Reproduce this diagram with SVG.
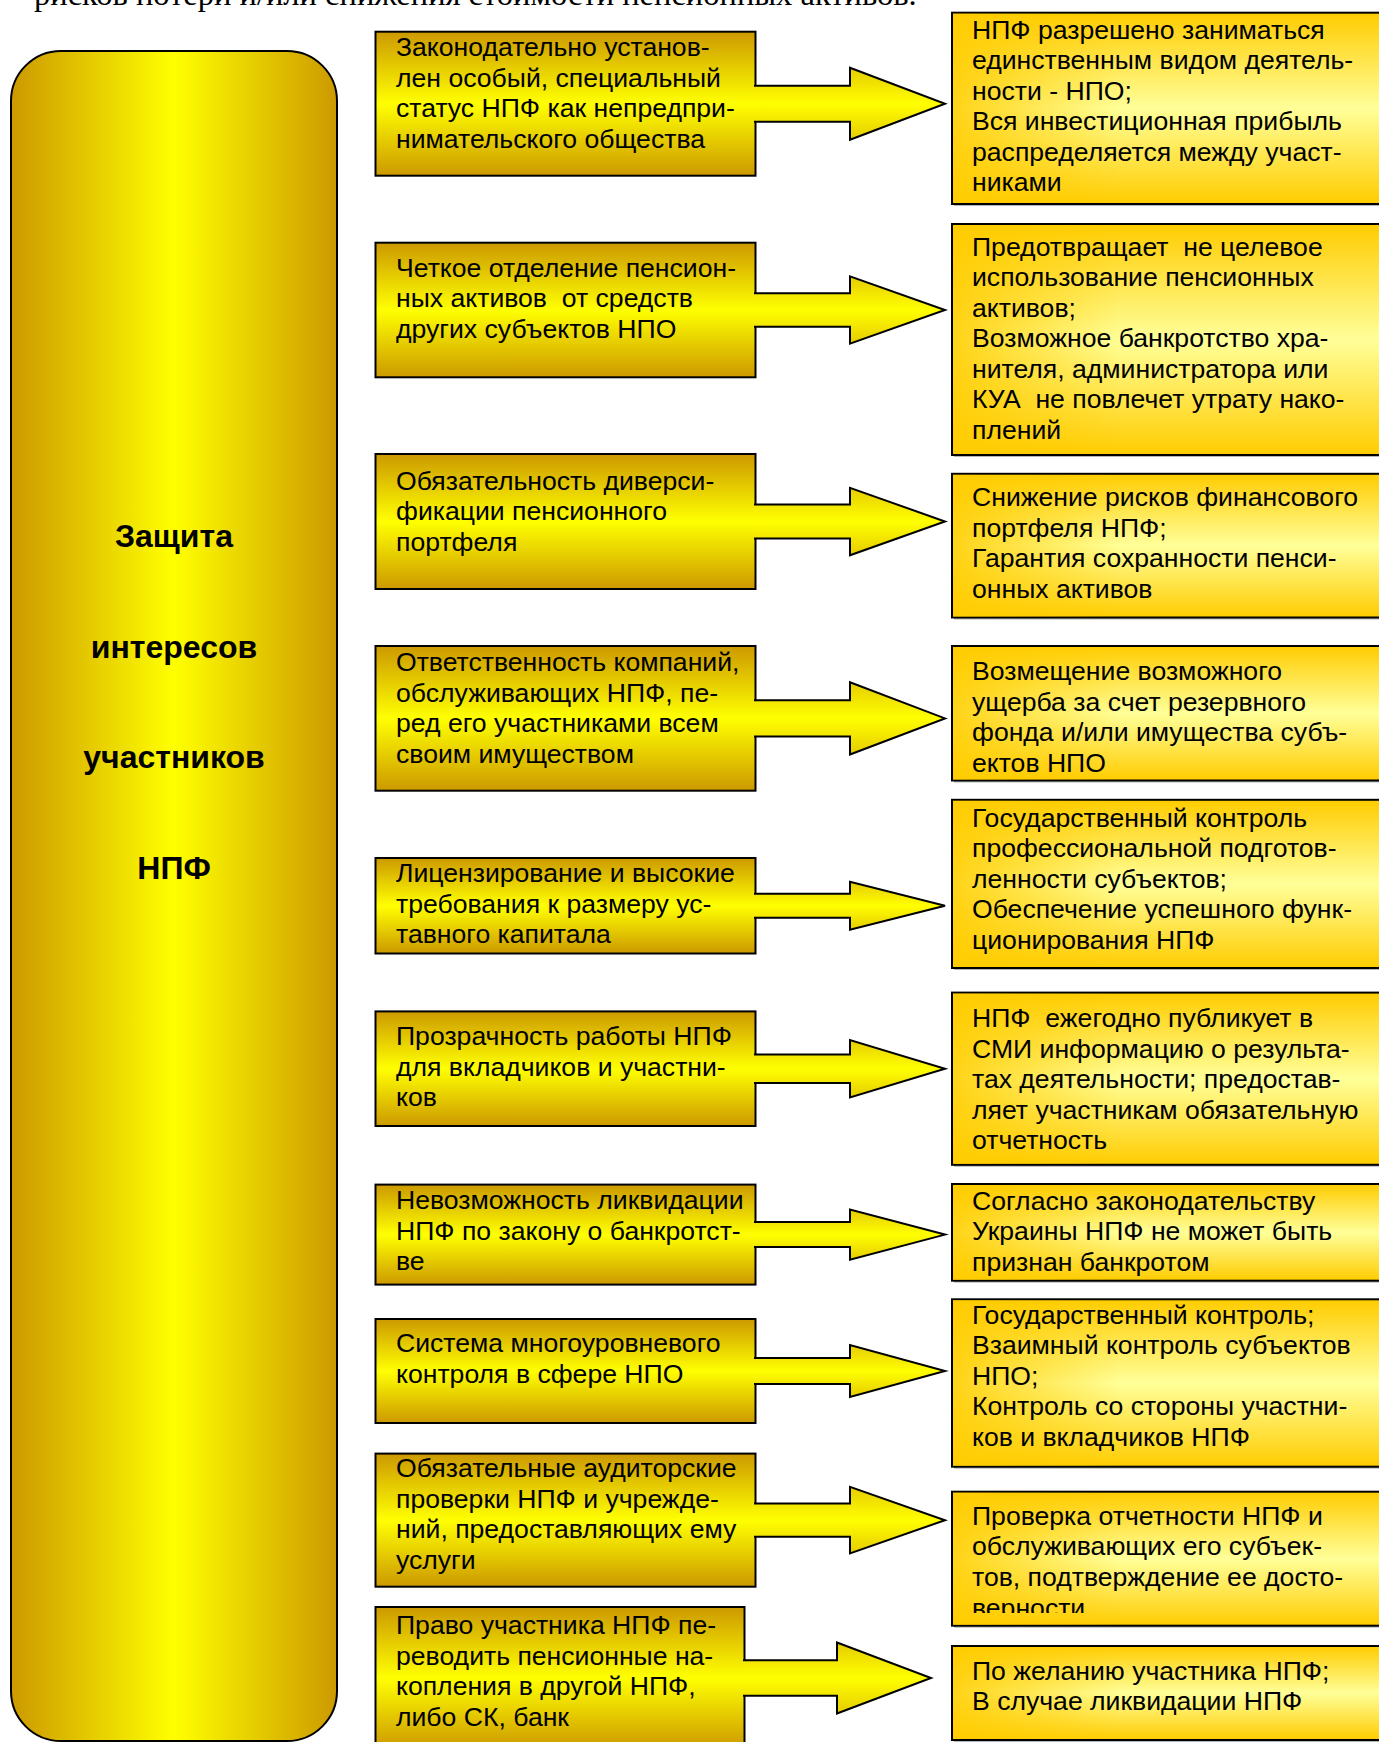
<svg xmlns="http://www.w3.org/2000/svg" width="1379" height="1742" viewBox="0 0 1379 1742">
<style>
.t{font-family:"Liberation Sans",Arial,sans-serif;font-size:26.6px;fill:#000;white-space:pre}
.ttl{font-family:"Liberation Sans",Arial,sans-serif;font-size:32px;font-weight:bold;fill:#000;text-anchor:middle}
.top{font-family:"Liberation Serif","Times New Roman",serif;font-size:32.5px;fill:#000}
.lb{fill:url(#gL);stroke:#000;stroke-width:2}
.rb{fill:url(#gR);stroke:#000;stroke-width:2}
.ro{fill:url(#gRo)}
.sh{fill:#7a7a7a;opacity:.55}
.ar{fill:url(#gA);stroke:#000;stroke-width:2;stroke-linejoin:miter}
.big{fill:url(#gBig);stroke:#000;stroke-width:2}
</style>
<defs>
<linearGradient id="gBig" x1="0" y1="0" x2="1" y2="0">
<stop offset="0" stop-color="#CC9900"/><stop offset="0.5" stop-color="#FFFF00"/><stop offset="1" stop-color="#CC9900"/>
</linearGradient>
<linearGradient id="gL" x1="0" y1="0" x2="0" y2="1">
<stop offset="0" stop-color="#CC9900"/><stop offset="0.5" stop-color="#FFFF00"/><stop offset="1" stop-color="#CC9900"/>
</linearGradient>
<linearGradient id="gA" x1="0" y1="0" x2="0" y2="1">
<stop offset="0" stop-color="#E6CC00"/><stop offset="0.5" stop-color="#FFFF00"/><stop offset="1" stop-color="#E6CC00"/>
</linearGradient>
<linearGradient id="gR" x1="0" y1="0" x2="0" y2="1">
<stop offset="0" stop-color="#FFCC00"/><stop offset="0.5" stop-color="#FFFF99"/><stop offset="1" stop-color="#FFCC00"/>
</linearGradient>
<linearGradient id="gRo" gradientUnits="userSpaceOnUse" x1="952" y1="0" x2="1120" y2="0">
<stop offset="0" stop-color="#FFCC00" stop-opacity="0.85"/><stop offset="1" stop-color="#FFCC00" stop-opacity="0"/>
</linearGradient>
<clipPath id="c9"><rect x="952" y="1491" width="440" height="122"/></clipPath>
</defs>

<text class="top" x="34" y="5">рисков потери и/или снижения стоимости пенсионных активов.</text>

<g id="main">
<rect class="big" x="11" y="51" width="326" height="1690" rx="50" ry="50"/>
<text class="ttl"><tspan x="174" y="547">Защита</tspan><tspan x="174" y="658">интересов</tspan><tspan x="174" y="768">участников</tspan><tspan x="174" y="879">НПФ</tspan></text>
</g>

<g id="L1"><rect class="lb" x="375.5" y="31.7" width="380" height="144"/></g>
<g id="L2"><rect class="lb" x="375.5" y="242.7" width="380" height="134.6"/></g>
<g id="L3"><rect class="lb" x="375.5" y="454" width="380" height="135"/></g>
<g id="L4"><rect class="lb" x="375.5" y="646" width="380" height="144.7"/></g>
<g id="L5"><rect class="lb" x="375.5" y="858" width="380" height="95.5"/></g>
<g id="L6"><rect class="lb" x="375.5" y="1011.4" width="380" height="114.6"/></g>
<g id="L7"><rect class="lb" x="375.5" y="1184.6" width="380" height="100"/></g>
<g id="L8"><rect class="lb" x="375.5" y="1319" width="380" height="104"/></g>
<g id="L9"><rect class="lb" x="375.5" y="1453.6" width="380" height="133.1"/></g>
<g id="L10"><rect class="lb" x="375.5" y="1607" width="369" height="142"/></g>

<g id="connectors">
<path class="ar" d="M754,85.7 H850 V67.7 L945,103.7 L850,139.7 V121.7 H754"/>
<path class="ar" d="M754,293.2 H850 V276.4 L945,310 L850,343.6 V326.8 H754"/>
<path class="ar" d="M754,504.6 H850 V487.8 L945,521.5 L850,555.3 V538.4 H754"/>
<path class="ar" d="M754,700.3 H850 V682.2 L945,718.4 L850,754.5 V736.4 H754"/>
<path class="ar" d="M754,893.8 H850 V881.9 L945,905.8 L850,929.6 V917.7 H754"/>
<path class="ar" d="M754,1054.4 H850 V1040.1 L945,1068.7 L850,1097.4 V1083 H754"/>
<path class="ar" d="M754,1222.1 H850 V1209.6 L945,1234.6 L850,1259.6 V1247.1 H754"/>
<path class="ar" d="M754,1358 H850 V1345 L945,1371 L850,1397 V1384 H754"/>
<path class="ar" d="M754,1503.5 H850 V1486.9 L945,1520.2 L850,1553.4 V1536.8 H754"/>
<path class="ar" d="M743,1660.3 H837 V1642.5 L931,1678 L837,1713.5 V1695.8 H743"/>
</g>

<g id="L-texts">
<text class="t"><tspan x="396" y="56">Законодательно установ-</tspan><tspan x="396" y="86.5">лен особый, специальный</tspan><tspan x="396" y="117">статус НПФ как непредпри-</tspan><tspan x="396" y="147.5">нимательского общества</tspan></text>
<text class="t"><tspan x="396" y="276.5">Четкое отделение пенсион-</tspan><tspan x="396" y="307">ных активов  от средств</tspan><tspan x="396" y="337.5">других субъектов НПО</tspan></text>
<text class="t"><tspan x="396" y="489.5">Обязательность диверси-</tspan><tspan x="396" y="520">фикации пенсионного</tspan><tspan x="396" y="550.5">портфеля</tspan></text>
<text class="t"><tspan x="396" y="671">Ответственность компаний,</tspan><tspan x="396" y="701.5">обслуживающих НПФ, пе-</tspan><tspan x="396" y="732">ред его участниками всем</tspan><tspan x="396" y="762.5">своим имуществом</tspan></text>
<text class="t"><tspan x="396" y="882">Лицензирование и высокие</tspan><tspan x="396" y="912.5">требования к размеру ус-</tspan><tspan x="396" y="943">тавного капитала</tspan></text>
<text class="t"><tspan x="396" y="1045">Прозрачность работы НПФ</tspan><tspan x="396" y="1075.5">для вкладчиков и участни-</tspan><tspan x="396" y="1106">ков</tspan></text>
<text class="t"><tspan x="396" y="1209">Невозможность ликвидации</tspan><tspan x="396" y="1239.5">НПФ по закону о банкротст-</tspan><tspan x="396" y="1270">ве</tspan></text>
<text class="t"><tspan x="396" y="1352">Система многоуровневого</tspan><tspan x="396" y="1382.5">контроля в сфере НПО</tspan></text>
<text class="t"><tspan x="396" y="1477">Обязательные аудиторские</tspan><tspan x="396" y="1507.5">проверки НПФ и учрежде-</tspan><tspan x="396" y="1538">ний, предоставляющих ему</tspan><tspan x="396" y="1568.5">услуги</tspan></text>
<text class="t"><tspan x="396" y="1634">Право участника НПФ пе-</tspan><tspan x="396" y="1664.5">реводить пенсионные на-</tspan><tspan x="396" y="1695">копления в другой НПФ,</tspan><tspan x="396" y="1725.5">либо СК, банк</tspan></text>
</g>

<g id="R1"><rect class="sh" x="954" y="14.7" width="440" height="191.3"/><rect class="rb" x="952" y="12.7" width="440" height="191.3"/><rect class="ro" x="953" y="13.7" width="200" height="189.3"/>
<text class="t"><tspan x="972" y="38.5">НПФ разрешено заниматься</tspan><tspan x="972" y="69">единственным видом деятель-</tspan><tspan x="972" y="99.5">ности - НПО;</tspan><tspan x="972" y="130">Вся инвестиционная прибыль</tspan><tspan x="972" y="160.5">распределяется между участ-</tspan><tspan x="972" y="191">никами</tspan></text></g>

<g id="R2"><rect class="sh" x="954" y="226" width="440" height="231"/><rect class="rb" x="952" y="224" width="440" height="231"/><rect class="ro" x="953" y="225" width="200" height="229"/>
<text class="t"><tspan x="972" y="255.5">Предотвращает  не целевое</tspan><tspan x="972" y="286">использование пенсионных</tspan><tspan x="972" y="316.5">активов;</tspan><tspan x="972" y="347">Возможное банкротство хра-</tspan><tspan x="972" y="377.5">нителя, администратора или</tspan><tspan x="972" y="408">КУА  не повлечет утрату нако-</tspan><tspan x="972" y="438.5">плений</tspan></text></g>

<g id="R3"><rect class="sh" x="954" y="475.8" width="440" height="143.7"/><rect class="rb" x="952" y="473.8" width="440" height="143.7"/><rect class="ro" x="953" y="474.8" width="200" height="141.7"/>
<text class="t"><tspan x="972" y="506">Снижение рисков финансового</tspan><tspan x="972" y="536.5">портфеля НПФ;</tspan><tspan x="972" y="567">Гарантия сохранности пенси-</tspan><tspan x="972" y="597.5">онных активов</tspan></text></g>

<g id="R4"><rect class="sh" x="954" y="648" width="440" height="134.5"/><rect class="rb" x="952" y="646" width="440" height="134.5"/><rect class="ro" x="953" y="647" width="200" height="132.5"/>
<text class="t"><tspan x="972" y="680">Возмещение возможного</tspan><tspan x="972" y="710.5">ущерба за счет резервного</tspan><tspan x="972" y="741">фонда и/или имущества субъ-</tspan><tspan x="972" y="771.5">ектов НПО</tspan></text></g>

<g id="R5"><rect class="sh" x="954" y="801.8" width="440" height="168.2"/><rect class="rb" x="952" y="799.8" width="440" height="168.2"/><rect class="ro" x="953" y="800.8" width="200" height="166.2"/>
<text class="t"><tspan x="972" y="826.5">Государственный контроль</tspan><tspan x="972" y="857">профессиональной подготов-</tspan><tspan x="972" y="887.5">ленности субъектов;</tspan><tspan x="972" y="918">Обеспечение успешного функ-</tspan><tspan x="972" y="948.5">ционирования НПФ</tspan></text></g>

<g id="R6"><rect class="sh" x="954" y="994.6" width="440" height="172.2"/><rect class="rb" x="952" y="992.6" width="440" height="172.2"/><rect class="ro" x="953" y="993.6" width="200" height="170.2"/>
<text class="t"><tspan x="972" y="1027">НПФ  ежегодно публикует в</tspan><tspan x="972" y="1057.5">СМИ информацию о результа-</tspan><tspan x="972" y="1088">тах деятельности; предостав-</tspan><tspan x="972" y="1118.5">ляет участникам обязательную</tspan><tspan x="972" y="1149">отчетность</tspan></text></g>

<g id="R7"><rect class="sh" x="954" y="1186" width="440" height="96.7"/><rect class="rb" x="952" y="1184" width="440" height="96.7"/><rect class="ro" x="953" y="1185" width="200" height="94.7"/>
<text class="t"><tspan x="972" y="1209.5">Согласно законодательству</tspan><tspan x="972" y="1240">Украины НПФ не может быть</tspan><tspan x="972" y="1270.5">признан банкротом</tspan></text></g>

<g id="R8"><rect class="sh" x="954" y="1301.3" width="440" height="167.4"/><rect class="rb" x="952" y="1299.3" width="440" height="167.4"/><rect class="ro" x="953" y="1300.3" width="200" height="165.4"/>
<text class="t"><tspan x="972" y="1323.5">Государственный контроль;</tspan><tspan x="972" y="1354">Взаимный контроль субъектов</tspan><tspan x="972" y="1384.5">НПО;</tspan><tspan x="972" y="1415">Контроль со стороны участни-</tspan><tspan x="972" y="1445.5">ков и вкладчиков НПФ</tspan></text></g>

<g id="R9"><rect class="sh" x="954" y="1493.7" width="440" height="134"/><rect class="rb" x="952" y="1491.7" width="440" height="134"/><rect class="ro" x="953" y="1492.7" width="200" height="132"/>
<text class="t" clip-path="url(#c9)"><tspan x="972" y="1524.5">Проверка отчетности НПФ и</tspan><tspan x="972" y="1555">обслуживающих его субъек-</tspan><tspan x="972" y="1585.5">тов, подтверждение ее досто-</tspan><tspan x="972" y="1616.5">верности</tspan></text></g>

<g id="R10"><rect class="sh" x="954" y="1648" width="440" height="94"/><rect class="rb" x="952" y="1646" width="440" height="94"/><rect class="ro" x="953" y="1647" width="200" height="92"/>
<text class="t"><tspan x="972" y="1679.5">По желанию участника НПФ;</tspan><tspan x="972" y="1710">В случае ликвидации НПФ</tspan></text></g>
</svg>
